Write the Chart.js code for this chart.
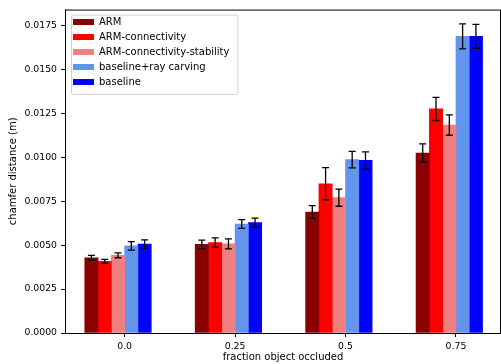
<!DOCTYPE html>
<html>
<head>
<meta charset="utf-8">
<script src="https://cdn.jsdelivr.net/npm/chart.js@4"></script>
<style>
  html, body { margin: 0; padding: 0; background: #fff; overflow: hidden; }
  #wrap { width: 501px; height: 364px; position: relative; }
</style>
</head>
<body>
<div id="wrap"><canvas id="chart"></canvas></div>
<script>
const occluded = [0, 0.25, 0.5, 0.75];
const occludedLabels = ["0.0", "0.25", "0.5", "0.75"];
const yTicks = [0, 0.0025, 0.005, 0.0075, 0.01, 0.0125, 0.015, 0.0175];

const seriesNames = ["ARM", "ARM-connectivity", "ARM-connectivity-stability", "baseline+ray carving", "baseline"];
const arm = [0.00428, 0.00504, 0.00688, 0.01024];
const armErr = [0.00014, 0.00024, 0.00037, 0.00052];
const armConn = [0.00408, 0.00515, 0.00849, 0.01275];
const armConnErr = [0.00011, 0.00026, 0.00092, 0.00066];
const armStab = [0.00442, 0.00507, 0.00770, 0.01183];
const armStabErr = [0.00014, 0.00028, 0.00049, 0.00058];
const rayCarving = [0.00496, 0.00620, 0.00986, 0.01688];
const rayCarvingErr = [0.00024, 0.00025, 0.00047, 0.00071];
const baseline = [0.00506, 0.00628, 0.00982, 0.01688];
const baselineErr = [0.00024, 0.00025, 0.00049, 0.00068];

const colors = ["#8b0000", "#ff0000", "#f08080", "#6495ed", "#0000ff"];
const values = [arm, armConn, armStab, rayCarving, baseline];
const errors = [armErr, armConnErr, armStabErr, rayCarvingErr, baselineErr];

// matplotlib placed the groups so the 4th bar starts at the tick
const BAR_PX = 13.3;
const GROUP_SHIFT = -0.015;

const FAMILY = "'DejaVu Sans', sans-serif";
const TICK_FONT = { family: FAMILY, size: 9.3 };
const LABEL_FONT = { family: FAMILY, size: 10 };

const datasets = seriesNames.map((name, i) => ({
  label: name,
  data: occluded.map((x, j) => ({ x: x + GROUP_SHIFT, y: values[i][j] })),
  errs: errors[i],
  backgroundColor: colors[i],
  borderWidth: 0,
  barThickness: BAR_PX,
}));

const LEGEND_DX = 3, LEGEND_DY = 12;

const frameAndErrors = {
  id: "frameAndErrors",
  afterLayout(chart) {
    chart.legend.left += LEGEND_DX;
    chart.legend.top += LEGEND_DY;
  },
  beforeDraw(chart) {
    const { ctx, chartArea: a } = chart;
    const boxes = chart.legend.legendHitBoxes;
    let right = 0;
    boxes.forEach((b) => { right = Math.max(right, b.left + b.width); });
    const last = boxes[boxes.length - 1];
    const x0 = a.left + 6, y0 = a.top + 5;
    const x1 = right + LEGEND_DX + 5, y1 = last.top + last.height + LEGEND_DY - 5;
    ctx.save();
    ctx.fillStyle = "rgba(255,255,255,0.8)";
    ctx.strokeStyle = "#d0d0d0";
    ctx.lineWidth = 1;
    ctx.beginPath();
    ctx.roundRect(x0 + 0.5, y0 + 0.5, x1 - x0, y1 - y0, 2);
    ctx.fill();
    ctx.stroke();
    ctx.restore();
  },
  afterDatasetsDraw(chart) {
    const { ctx, chartArea: a } = chart;
    const ys = chart.scales.y;
    ctx.save();
    ctx.strokeStyle = "#000";
    ctx.lineWidth = 1.3;
    chart.data.datasets.forEach((ds, i) => {
      const meta = chart.getDatasetMeta(i);
      meta.data.forEach((bar, j) => {
        const v = ds.data[j].y, e = ds.errs[j];
        const yt = ys.getPixelForValue(v + e);
        const yb = ys.getPixelForValue(v - e);
        ctx.beginPath();
        ctx.moveTo(bar.x, yt); ctx.lineTo(bar.x, yb);
        ctx.moveTo(bar.x - 3.5, yt); ctx.lineTo(bar.x + 3.5, yt);
        ctx.moveTo(bar.x - 3.5, yb); ctx.lineTo(bar.x + 3.5, yb);
        ctx.stroke();
      });
    });
    ctx.restore();
    ctx.save();
    ctx.strokeStyle = "#000";
    ctx.lineWidth = 1;
    ctx.strokeRect(a.left + 0.5, a.top + 0.5, a.right - a.left - 1, a.bottom - a.top);
    ctx.restore();
  },
};

new Chart(document.getElementById("chart"), {
  type: "bar",
  data: { datasets },
  options: {
    responsive: true,
    maintainAspectRatio: false,
    animation: false,
    layout: { padding: { left: 0, right: 0, top: 8, bottom: 0 } },
    plugins: {
      tooltip: { enabled: false },
      legend: {
        position: "chartArea",
        align: "start",
        labels: {
          font: LABEL_FONT,
          color: "#000",
          boxWidth: 21,
          boxHeight: 6,
          padding: 5,
        },
      },
    },
    scales: {
      x: {
        type: "linear",
        offset: false,
        min: -0.135,
        max: 0.852,
        afterBuildTicks(scale) { scale.ticks = occluded.map((v) => ({ value: v })); },
        afterFit(scale) { scale.height = 31; },
        ticks: {
          font: TICK_FONT,
          color: "#000",
          padding: 4,
          maxRotation: 0,
          callback: (v) => occludedLabels[occluded.indexOf(v)],
        },
        grid: { offset: false, drawOnChartArea: false, drawTicks: true, tickLength: 4, color: "#000" },
        border: { display: true, color: "#000" },
        title: { display: true, text: "fraction object occluded", font: LABEL_FONT, color: "#000", padding: { top: 0, bottom: 1 } },
      },
      y: {
        min: 0,
        max: 0.0184,
        afterBuildTicks(scale) { scale.ticks = yTicks.map((v) => ({ value: v })); },
        afterFit(scale) { scale.width = 65; },
        ticks: {
          font: TICK_FONT,
          color: "#000",
          padding: 4,
          callback: (v) => v.toFixed(4),
        },
        grid: { drawOnChartArea: false, drawTicks: true, tickLength: 4, color: "#000" },
        border: { display: true, color: "#000" },
        title: { display: true, text: "chamfer distance (m)", font: LABEL_FONT, color: "#000", padding: { top: 7, bottom: 0 } },
      },
    },
  },
  plugins: [frameAndErrors],
});
</script>
</body>
</html>
